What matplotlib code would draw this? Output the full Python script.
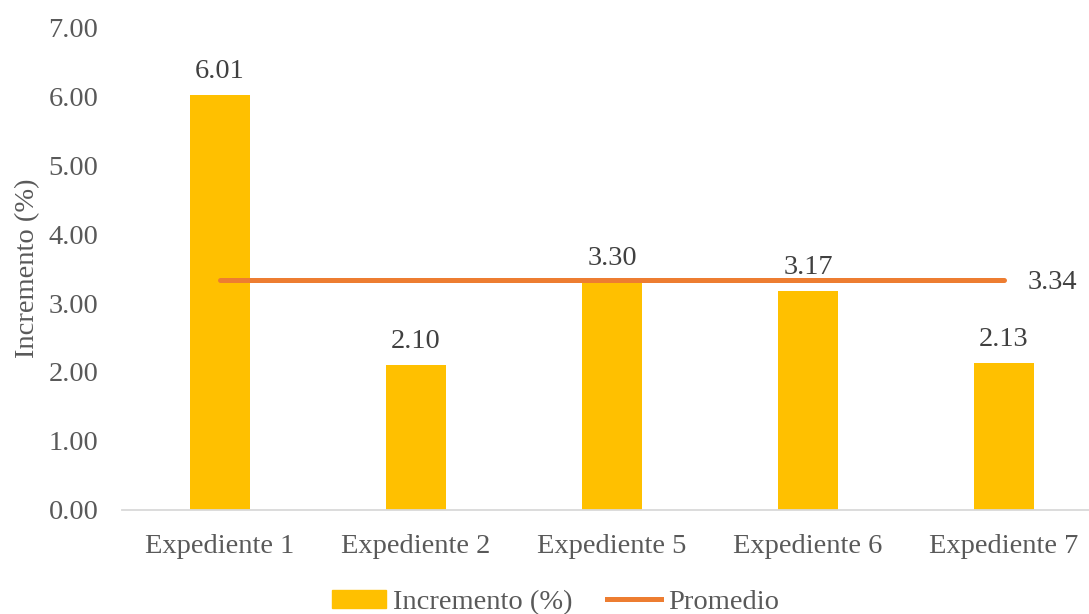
import numpy as np
import matplotlib.pyplot as plt
from matplotlib.lines import Line2D
from matplotlib.patches import Patch

categories = ["Expediente 1", "Expediente 2", "Expediente 5", "Expediente 6", "Expediente 7"]
incremento = [6.01, 2.10, 3.30, 3.17, 2.13]
promedio = [3.34, 3.34, 3.34, 3.34, 3.34]
y_ticks = [0, 1, 2, 3, 4, 5, 6, 7]

BAR = "#FFC000"
LINE = "#ED7D31"
TICK = "#595959"
LABEL = "#404040"
FS = 20.5

plt.rcParams["font.family"] = ["Liberation Serif", "DejaVu Serif"]

fig = plt.figure(figsize=(10.89, 6.14), dpi=100)
ax = fig.add_axes([0.112, 0.1694, 0.888, 0.7866])

x = np.arange(len(categories))
ax.bar(x, incremento, width=0.31, color=BAR, zorder=2)
ax.plot(x, promedio, color=LINE, linewidth=3.6, solid_capstyle="round", zorder=3)

for xi, v in zip(x, incremento):
    ax.annotate(f"{v:.2f}", (xi, v), xytext=(0, 8), textcoords="offset points",
                ha="center", va="bottom", fontsize=FS, color=LABEL)
ax.annotate(f"{promedio[-1]:.2f}", (x[-1], promedio[-1]), xytext=(17, -2),
            textcoords="offset points", ha="left", va="center",
            fontsize=FS, color=LABEL)

ax.set_xlim(-0.5, 4.434)
ax.set_ylim(0, 7)
ax.set_yticks(y_ticks)
ax.set_yticklabels([f"{t:.2f}" for t in y_ticks])
ax.set_xticks(x)
ax.set_xticklabels(categories)
ax.tick_params(axis="both", length=0, labelsize=FS, colors=TICK)
ax.tick_params(axis="x", pad=17)
ax.tick_params(axis="y", pad=17)

for s in ["top", "right", "left"]:
    ax.spines[s].set_visible(False)
ax.spines["bottom"].set_color("#D9D9D9")
ax.spines["bottom"].set_linewidth(1.3)

ax.set_ylabel("Incremento (%)", fontsize=FS, color=TICK, labelpad=6)

handles = [Patch(color=BAR, label="Incremento (%)"),
           Line2D([0], [0], color=LINE, linewidth=3.6, label="Promedio")]
fig.legend(handles=handles, loc="center", bbox_to_anchor=(0.51, 0.019),
           ncol=2, frameon=False, fontsize=FS, labelcolor=TICK,
           handlelength=1.9, handleheight=0.6, handletextpad=0.25,
           columnspacing=1.2)

fig.savefig("out.png", dpi=100)
